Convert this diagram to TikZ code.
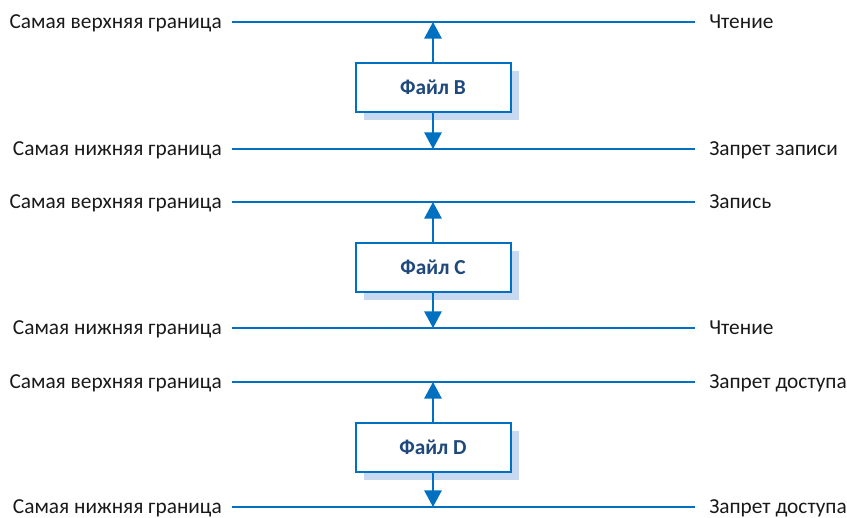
\documentclass[tikz,border=0pt]{standalone}
\usepackage{fontspec}
\setmainfont{Carlito}
\usepackage{xcolor}
\usetikzlibrary{arrows.meta, positioning, shadows}
\definecolor{lineblue}{HTML}{0070C0}
\definecolor{textblue}{HTML}{1F497D}
\definecolor{shadeblue}{HTML}{C6D9F1}
\tikzset{
  lbl/.style     = {inner sep=0pt, font=\fontsize{16pt}{19pt}\selectfont,
                    text height=9pt, text depth=0pt, text=black!90},
  bound/.style   = {draw=lineblue, line width=1.3pt,
                    shorten <=7.5pt, shorten >=10.5pt},
  filebox/.style = {rectangle, draw=lineblue, fill=white, line width=1.5pt,
                    minimum width=116.25pt, minimum height=36.75pt,
                    font=\fontsize{16pt}{19pt}\selectfont\bfseries,
                    text=textblue,
                    drop shadow={shadow xshift=6pt, shadow yshift=-6pt,
                                 fill=shadeblue, opacity=1}},
  arr/.style     = {-{Triangle[width=13pt, length=12.5pt]},
                    draw=lineblue, fill=lineblue, line width=1.5pt},
}
\begin{document}
\begin{tikzpicture}[x=0.75pt, y=-0.75pt]
  \useasboundingbox (0,0) rectangle (847,518);
  % Файл B
  \node[lbl, anchor=east] (bTopL) at (222,22)  {Самая верхняя граница};
  \node[lbl, anchor=west] (bTopR) at (709,22)  {Чтение};
  \node[lbl, anchor=east] (bBotL) at (222,149) {Самая нижняя граница};
  \node[lbl, anchor=west] (bBotR) at (709,149) {Запрет записи};
  \draw[bound] (bTopL) -- (bTopR);
  \draw[bound] (bBotL) -- (bBotR);
  \node[filebox] (fileB) at (433,87.5) {Файл B};
  \draw[arr] (fileB.north) -- (fileB.north |- bTopL);
  \draw[arr] (fileB.south) -- (fileB.south |- bBotL);
  % Файл C
  \node[lbl, anchor=east] (cTopL) at (222,202) {Самая верхняя граница};
  \node[lbl, anchor=west] (cTopR) at (709,202) {Запись};
  \node[lbl, anchor=east] (cBotL) at (222,328) {Самая нижняя граница};
  \node[lbl, anchor=west] (cBotR) at (709,328) {Чтение};
  \draw[bound] (cTopL) -- (cTopR);
  \draw[bound] (cBotL) -- (cBotR);
  \node[filebox] (fileC) at (433,267.5) {Файл C};
  \draw[arr] (fileC.north) -- (fileC.north |- cTopL);
  \draw[arr] (fileC.south) -- (fileC.south |- cBotL);
  % Файл D
  \node[lbl, anchor=east] (dTopL) at (222,382) {Самая верхняя граница};
  \node[lbl, anchor=west] (dTopR) at (709,382) {Запрет доступа};
  \node[lbl, anchor=east] (dBotL) at (222,507) {Самая нижняя граница};
  \node[lbl, anchor=west] (dBotR) at (709,507) {Запрет доступа};
  \draw[bound] (dTopL) -- (dTopR);
  \draw[bound] (dBotL) -- (dBotR);
  \node[filebox] (fileD) at (433,447.5) {Файл D};
  \draw[arr] (fileD.north) -- (fileD.north |- dTopL);
  \draw[arr] (fileD.south) -- (fileD.south |- dBotL);
\end{tikzpicture}
\end{document}
